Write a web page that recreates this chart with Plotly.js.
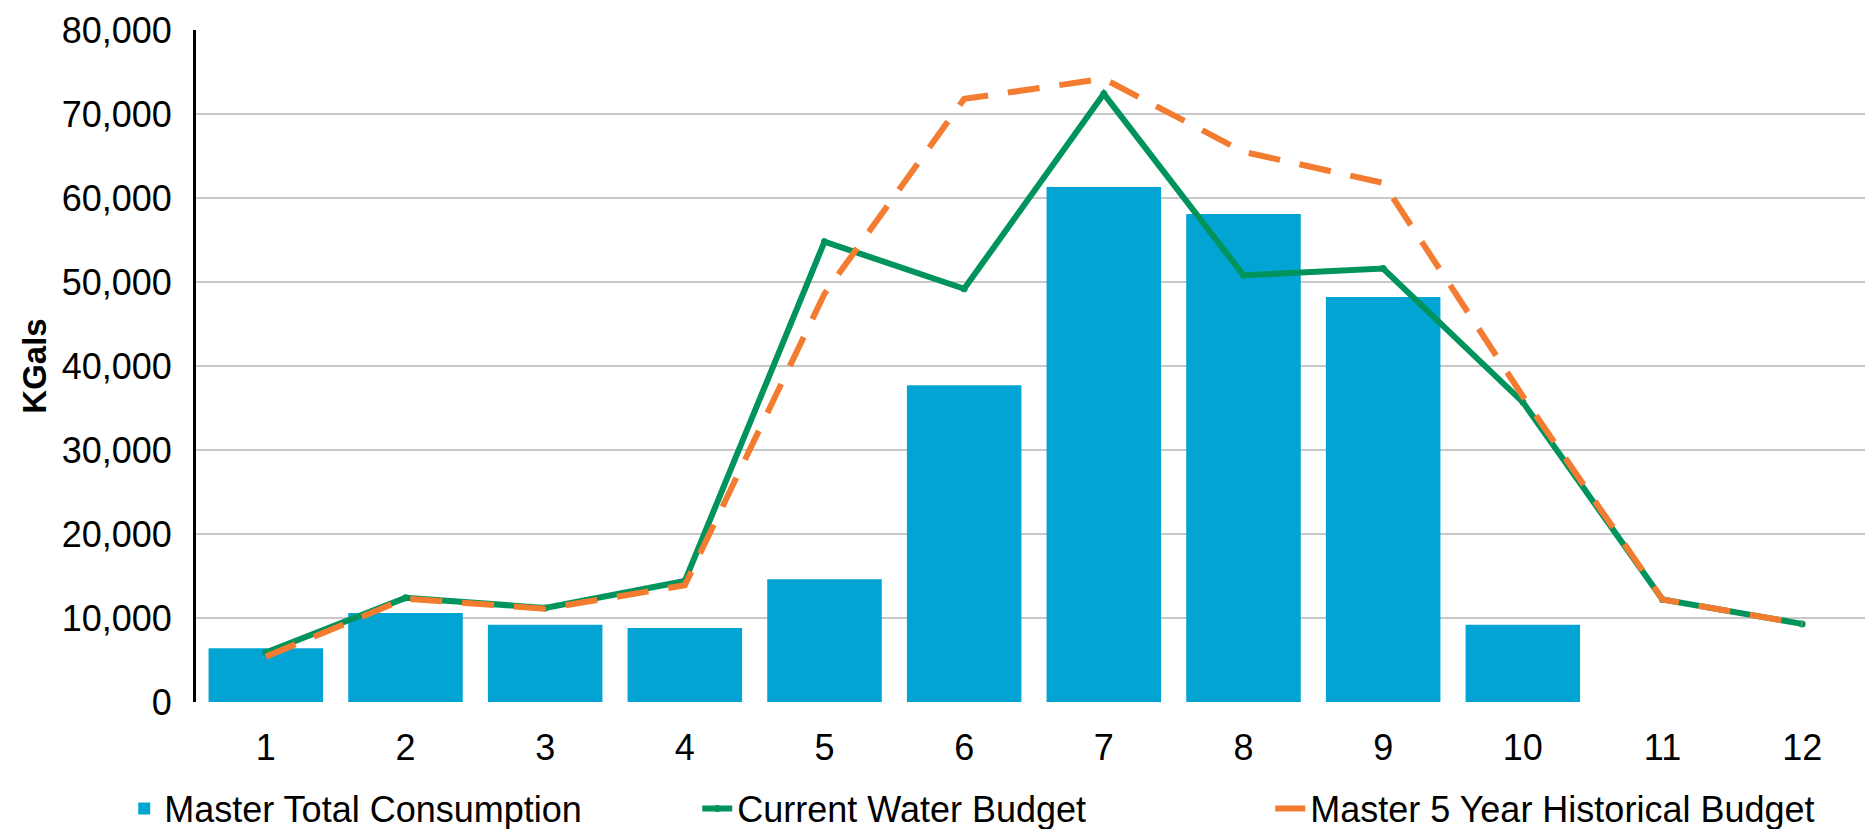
<!DOCTYPE html>
<html>
<head>
<meta charset="utf-8">
<script src="https://cdn.plot.ly/plotly-3.0.1.min.js"></script>
<style>html,body{margin:0;padding:0;background:#fff;}#chart{width:1865px;height:829px;}</style>
</head>
<body>
<div id="chart"></div>
<script>
const months = [1, 2, 3, 4, 5, 6, 7, 8, 9, 10, 11, 12];
const consumption = [6400, 10600, 9200, 8800, 14600, 37700, 61300, 58100, 48200, 9200, null, null];
const currentBudget = [5900, 12400, 11200, 14400, 54800, 49200, 72400, 50800, 51600, 35700, 12200, 9300];
const historicalBudget = [5400, 12300, 11100, 13900, 48600, 71800, 74200, 65500, 61800, 36400, 12200, 9300];

const fontFam = '"Liberation Sans", Arial, sans-serif';

const traces = [
  {
    type: 'bar', name: 'Master Total Consumption', x: months, y: consumption,
    marker: {color: '#02A4D3'}
  },
  {
    type: 'scatter', mode: 'lines+markers', name: 'Current Water Budget', x: months, y: currentBudget,
    line: {color: '#00945C', width: 6}, marker: {color: '#00945C', size: 7}
  },
  {
    type: 'scatter', mode: 'lines', name: 'Master 5 Year Historical Budget', x: months, y: historicalBudget,
    line: {color: '#F47C30', width: 6, dash: '32px,20px'}
  }
];

const layout = {
  width: 1865, height: 829,
  margin: {l: 196, r: 0, t: 30, b: 127, autoexpand: false},
  paper_bgcolor: '#fff', plot_bgcolor: '#fff',
  font: {family: fontFam, size: 36, color: '#000'},
  bargap: 0.18,
  showlegend: true,
  legend: {
    orientation: 'h', x: -0.043, xanchor: 'left', y: -0.1585, yanchor: 'middle',
    font: {size: 36, color: '#000'}, entrywidth: 528, traceorder: 'normal'
  },
  xaxis: {
    range: [0.5, 12.45], tickmode: 'array', tickvals: months, ticktext: months.map(String),
    showgrid: false, zeroline: false, showline: false, ticks: '',
    ticklabelstandoff: 21, tickfont: {size: 36}
  },
  yaxis: {
    range: [0, 80000], dtick: 10000, tickformat: ',d',
    showgrid: true, gridcolor: '#C8C8C8', gridwidth: 2,
    zeroline: false, showline: true, linecolor: '#000', linewidth: 3,
    ticks: '', ticklabelstandoff: 14, tickfont: {size: 36},
    title: {text: '<b>KGals</b>', font: {size: 33}, standoff: 6}
  }
};

Plotly.newPlot('chart', traces, layout, {displayModeBar: false, staticPlot: true});
</script>
</body>
</html>
